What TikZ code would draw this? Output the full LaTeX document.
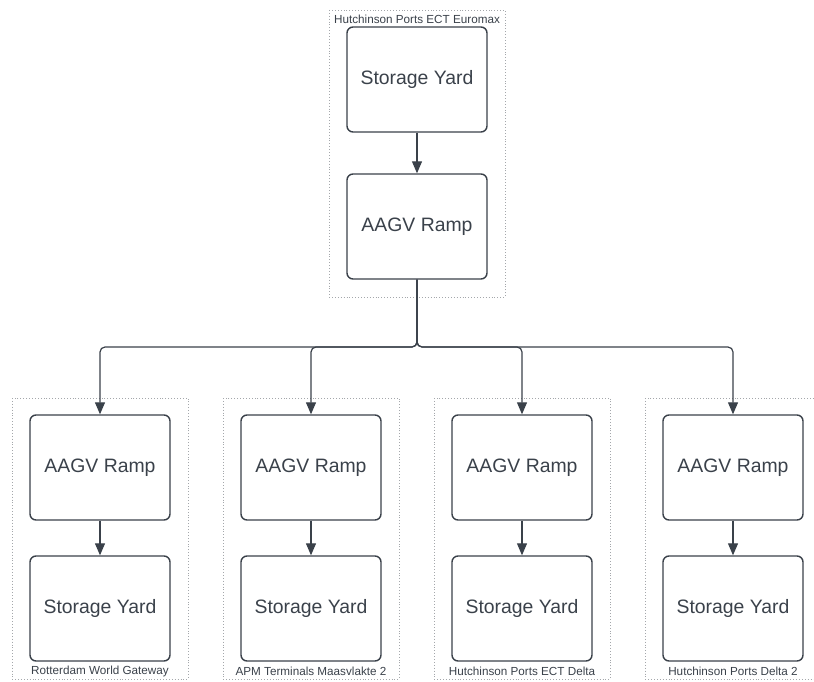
\documentclass[tikz,border=0pt]{standalone}
\usepackage{fontspec}
\setmainfont{Liberation Sans}
\usetikzlibrary{arrows.meta}
\definecolor{ink}{HTML}{3A414A}
\definecolor{frame}{HTML}{A4A7AB}
\begin{document}
\begin{tikzpicture}[x=1pt,y=-1pt,
  blockbox/.style={draw=ink,line width=1.4pt,rounded corners=6pt,minimum width=140pt,minimum height=105pt,
    text=ink,font=\fontsize{19.4pt}{22pt}\selectfont,inner sep=0pt},
  group/.style={draw=frame,line width=0.9pt,dotted},
  grouplabel/.style={text=ink,font=\fontsize{11.7pt}{13pt}\selectfont,inner sep=0pt},
  flow/.style={draw=ink,line width=1.2pt,-{Triangle[length=12pt,width=10pt]}},
  branch/.style={flow,rounded corners=5pt}]
\useasboundingbox (0,0) rectangle (814,682);

% upper terminal
\draw[group] (329,10) rectangle (505,297);
\node[grouplabel] (tlab) at (417,19.5) {Hutchinson Ports ECT Euromax};
\node[blockbox] (tsy) at (417,79.5) {Storage Yard};
\node[blockbox] (tram) at (417,226.5) {AAGV Ramp};
\draw[flow] (tsy) -- (tram);

% lower terminals
\foreach \cx/\lab [count=\i] in {100/Rotterdam World Gateway,311/APM Terminals Maasvlakte 2,522/Hutchinson Ports ECT Delta,733/Hutchinson Ports Delta 2}{
  \draw[group] (\cx-88,398) rectangle (\cx+88,679);
  \node[grouplabel] (blab\i) at (\cx,671) {\lab};
  \node[blockbox] (bram\i) at (\cx,467.5) {AAGV Ramp};
  \node[blockbox] (bsy\i) at (\cx,608.5) {Storage Yard};
  \draw[flow] (bram\i) -- (bsy\i);
}

% distribution from the upper ramp
\coordinate (split) at (417,347);
\foreach \i in {1,2,3,4}{
  \draw[branch] (tram.south) -- (split) -| (bram\i.north);
}
\end{tikzpicture}
\end{document}
